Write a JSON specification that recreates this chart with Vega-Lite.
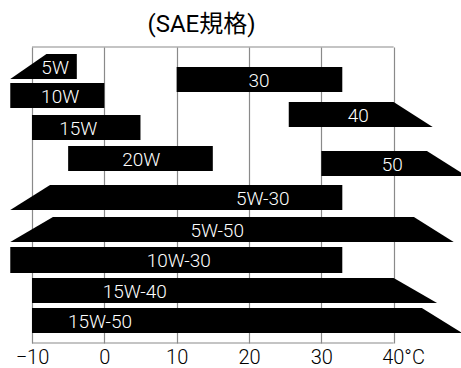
{
  "$schema": "https://vega.github.io/schema/vega-lite/v6.json",
  "autosize": "none",
  "width": 461,
  "height": 296,
  "padding": {"top": 47, "bottom": 25, "left": 0, "right": 0},
  "background": "white",
  "title": {
    "text": "(SAE規格)",
    "font": "Roboto, 'Noto Sans CJK JP'",
    "fontSize": 24,
    "fontWeight": "normal",
    "color": "black",
    "anchor": "middle",
    "baseline": "alphabetic",
    "offset": 14,
    "dx": -29,
    "dy": 24
  },
  "config": {"view": {"stroke": null}},
  "datasets": {
    "bars": [
      {"grade": "5W", "edge": "top", "pos": 7, "left": -8.0, "right": -3.8},
      {"grade": "5W", "edge": "bottom", "pos": 32, "left": -13.0, "right": -3.8},
      {"grade": "10W", "edge": "top", "pos": 36, "left": -13.0, "right": 0},
      {"grade": "10W", "edge": "bottom", "pos": 61, "left": -13.0, "right": 0},
      {"grade": "30", "edge": "top", "pos": 20, "left": 10, "right": 32.9},
      {"grade": "30", "edge": "bottom", "pos": 45, "left": 10, "right": 32.9},
      {"grade": "40", "edge": "top", "pos": 55, "left": 25.5, "right": 40},
      {"grade": "40", "edge": "bottom", "pos": 80, "left": 25.5, "right": 45.4},
      {"grade": "15W", "edge": "top", "pos": 68, "left": -10, "right": 5},
      {"grade": "15W", "edge": "bottom", "pos": 93, "left": -10, "right": 5},
      {"grade": "20W", "edge": "top", "pos": 99, "left": -5, "right": 15},
      {"grade": "20W", "edge": "bottom", "pos": 124, "left": -5, "right": 15},
      {"grade": "50", "edge": "top", "pos": 104, "left": 30, "right": 44.6},
      {"grade": "50", "edge": "bottom", "pos": 129, "left": 30, "right": 50.1},
      {"grade": "5W-30", "edge": "top", "pos": 138, "left": -7.5, "right": 32.9},
      {"grade": "5W-30", "edge": "bottom", "pos": 163, "left": -13.0, "right": 32.9},
      {"grade": "5W-50", "edge": "top", "pos": 170, "left": -7.1, "right": 42.8},
      {"grade": "5W-50", "edge": "bottom", "pos": 195, "left": -13.0, "right": 48.3},
      {"grade": "10W-30", "edge": "top", "pos": 200, "left": -13.0, "right": 32.9},
      {"grade": "10W-30", "edge": "bottom", "pos": 226, "left": -13.0, "right": 32.9},
      {"grade": "15W-40", "edge": "top", "pos": 231, "left": -10, "right": 40},
      {"grade": "15W-40", "edge": "bottom", "pos": 256, "left": -10, "right": 46},
      {"grade": "15W-50", "edge": "top", "pos": 261, "left": -10, "right": 43.9},
      {"grade": "15W-50", "edge": "bottom", "pos": 286, "left": -10, "right": 49.5}
    ],
    "labels": [
      {"grade": "5W", "temp": -6.8, "pos": 19.5},
      {"grade": "10W", "temp": -6.1, "pos": 48.5},
      {"grade": "30", "temp": 21.4, "pos": 32.5},
      {"grade": "40", "temp": 35.1, "pos": 67.5},
      {"grade": "15W", "temp": -3.6, "pos": 80.5},
      {"grade": "20W", "temp": 5.1, "pos": 111.5},
      {"grade": "50", "temp": 39.8, "pos": 116.5},
      {"grade": "5W-30", "temp": 21.9, "pos": 150.5},
      {"grade": "5W-50", "temp": 15.6, "pos": 182.5},
      {"grade": "10W-30", "temp": 10.3, "pos": 213},
      {"grade": "15W-40", "temp": 4.2, "pos": 243.5},
      {"grade": "15W-50", "temp": -0.6, "pos": 273.5}
    ],
    "frame": [
      {"pos": 0, "from": -10, "to": 40},
      {"pos": 296, "from": -10, "to": 40}
    ]
  },
  "layer": [
    {
      "data": {"name": "frame"},
      "mark": {"type": "rule", "color": "#8a8a8a", "strokeWidth": 1.2},
      "encoding": {
        "x": {
          "field": "from",
          "type": "quantitative",
          "scale": {"domain": [-14.42, 49.31], "nice": false, "zero": false},
          "axis": {
            "values": [-10, 0, 10, 20, 30, 40],
            "title": null,
            "domain": false,
            "ticks": false,
            "grid": true,
            "gridColor": "#8a8a8a",
            "gridWidth": 1.2,
            "gridOpacity": 1,
            "labelFont": "Roboto",
            "labelFontSize": 20,
            "labelFontWeight": 300,
            "labelColor": "black",
            "labelBaseline": "alphabetic",
            "labelPadding": 20,
            "labelFlush": false,
            "labelOverlap": false,
            "labelExpr": "datum.value == 40 ? '40°C' : datum.label",
            "labelAlign": {"condition": {"test": "datum.value == 40", "value": "left"}, "value": "center"},
            "labelOffset": {"condition": {"test": "datum.value == 40", "value": -12}, "value": 0}
          }
        },
        "x2": {"field": "to"},
        "y": {
          "field": "pos",
          "type": "quantitative",
          "scale": {"domain": [0, 296], "reverse": true, "nice": false, "zero": false},
          "axis": null
        }
      }
    },
    {
      "data": {"name": "bars"},
      "mark": {"type": "area", "orient": "horizontal", "color": "black", "opacity": 1, "clip": false},
      "encoding": {
        "y": {"field": "pos", "type": "quantitative", "sort": null},
        "x": {"field": "left", "type": "quantitative", "stack": null},
        "x2": {"field": "right"},
        "detail": {"field": "grade", "type": "nominal"}
      }
    },
    {
      "data": {"name": "labels"},
      "mark": {"type": "text", "color": "white", "font": "Roboto", "fontSize": 19, "fontWeight": 300, "baseline": "middle", "align": "center", "dy": 1},
      "encoding": {
        "x": {"field": "temp", "type": "quantitative"},
        "y": {"field": "pos", "type": "quantitative"},
        "text": {"field": "grade", "type": "nominal"}
      }
    }
  ]
}
